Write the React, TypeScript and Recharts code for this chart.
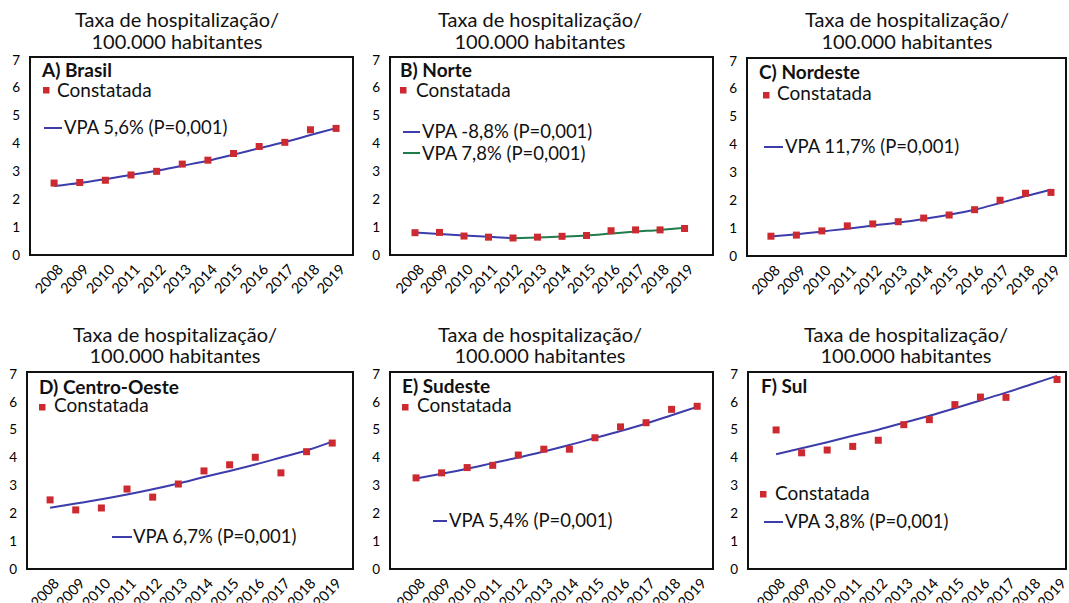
import React from 'react';
import { ComposedChart, Line, Scatter, XAxis, YAxis, ReferenceArea } from 'recharts';

const years = [2008, 2009, 2010, 2011, 2012, 2013, 2014, 2015, 2016, 2017, 2018, 2019];
const yTicks = [0, 1, 2, 3, 4, 5, 6, 7];

const brasilObs = [2.58, 2.6, 2.68, 2.87, 3.0, 3.26, 3.4, 3.64, 3.89, 4.04, 4.49, 4.54];
const brasilVpa = [2.47, 2.58, 2.72, 2.87, 3.02, 3.2, 3.38, 3.6, 3.83, 4.05, 4.3, 4.55];

const norteObs = [0.8, 0.81, 0.68, 0.64, 0.61, 0.64, 0.67, 0.7, 0.87, 0.9, 0.9, 0.95];
const norteVpa1 = [0.81, 0.75, 0.7, 0.65, 0.6, null, null, null, null, null, null, null];
const norteVpa2 = [null, null, null, null, 0.6, 0.63, 0.66, 0.7, 0.77, 0.84, 0.9, 0.98];

const nordesteObs = [0.71, 0.75, 0.9, 1.08, 1.15, 1.23, 1.36, 1.47, 1.66, 2.0, 2.25, 2.28];
const nordesteVpa = [0.7, 0.78, 0.88, 0.98, 1.09, 1.2, 1.33, 1.48, 1.66, 1.9, 2.15, 2.38];

const centroObs = [2.48, 2.12, 2.19, 2.87, 2.58, 3.05, 3.52, 3.74, 4.01, 3.45, 4.21, 4.52];
const centroVpa = [2.2, 2.35, 2.5, 2.67, 2.86, 3.07, 3.3, 3.52, 3.75, 4.0, 4.25, 4.57];

const sudesteObs = [3.27, 3.45, 3.64, 3.72, 4.09, 4.3, 4.3, 4.71, 5.1, 5.25, 5.73, 5.84];
const sudesteVpa = [3.25, 3.42, 3.6, 3.8, 4.0, 4.22, 4.45, 4.7, 4.95, 5.22, 5.52, 5.82];

const sulObs = [4.99, 4.17, 4.27, 4.4, 4.62, 5.18, 5.36, 5.9, 6.17, 6.16, null, 6.8];
const sulVpa = [4.12, 4.33, 4.55, 4.78, 5.0, 5.25, 5.5, 5.77, 6.05, 6.33, 6.63, 6.93];

const BLUE = '#3c3cab';
const GREEN = '#1f7d4c';
const RED = '#cc2a30';
const FONT = 'Lato, "Liberation Sans", sans-serif';

const titleLines = ['Taxa de hospitalização/', '100.000 habitantes'];
const obsLabel = 'Constatada';

const panels = [
  {
    heading: 'A) Brasil', obs: brasilObs,
    trends: [{ values: brasilVpa, label: 'VPA 5,6% (P=0,001)', color: BLUE }],
    left: 0, top: 0, w: 360, h: 300, yw: 30, mr: 7, mt: 57, xh: 45, ymax: 7.1, xd: [2007.06, 2019.66],
    titleX: 177, titleY: [27, 49],
    head: [42, 77], sq: [46, 90], sqText: [57, 97], vpa: [[44, 62, 128, 64, 134]],
  },
  {
    heading: 'B) Norte', obs: norteObs,
    trends: [
      { values: norteVpa1, label: 'VPA -8,8% (P=0,001)', color: BLUE },
      { values: norteVpa2, label: 'VPA 7,8% (P=0,001)', color: GREEN },
    ],
    left: 360, top: 0, w: 360, h: 300, yw: 30, mr: 7, mt: 57, xh: 45, ymax: 7.1, xd: [2006.98, 2020.16],
    titleX: 540, titleY: [27, 49],
    head: [400, 77], sq: [403, 90], sqText: [416, 97],
    vpa: [[403, 420, 132, 422, 138], [403, 420, 153, 422, 160]],
  },
  {
    heading: 'C) Nordeste', obs: nordesteObs,
    trends: [{ values: nordesteVpa, label: 'VPA 11,7% (P=0,001)', color: BLUE }],
    left: 717, top: 0, w: 352, h: 300, yw: 30, mr: 3, mt: 58, xh: 44, ymax: 7.1, xd: [2007.06, 2019.59],
    titleX: 907, titleY: [27, 49],
    head: [759, 79], sq: [766, 95], sqText: [777, 100], vpa: [[764, 783, 147, 785, 153]],
  },
  {
    heading: 'D) Centro-Oeste', obs: centroObs,
    trends: [{ values: centroVpa, label: 'VPA 6,7% (P=0,001)', color: BLUE }],
    left: 0, top: 310, w: 360, h: 293, yw: 27, mr: 7, mt: 62, xh: 34, ymax: 7.07, xd: [2007.1, 2019.81],
    titleX: 175, titleY: [342, 363],
    head: [39, 394], sq: [42, 407], sqText: [54, 412], vpa: [[112, 132, 537, 133, 543]],
  },
  {
    heading: 'E) Sudeste', obs: sudesteObs,
    trends: [{ values: sudesteVpa, label: 'VPA 5,4% (P=0,001)', color: BLUE }],
    left: 360, top: 310, w: 360, h: 293, yw: 30, mr: 7, mt: 62, xh: 34, ymax: 7.07, xd: [2006.98, 2019.62],
    titleX: 540, titleY: [342, 363],
    head: [402, 393], sq: [405, 407], sqText: [417, 412], vpa: [[433, 447, 521, 449, 527]],
  },
  {
    heading: 'F) Sul', obs: sulObs,
    trends: [{ values: sulVpa, label: 'VPA 3,8% (P=0,001)', color: BLUE }],
    left: 718, top: 310, w: 351, h: 293, yw: 30, mr: 3, mt: 62, xh: 34, ymax: 7.07, xd: [2006.9, 2019.35],
    titleX: 906, titleY: [342, 363],
    head: [761, 393], sq: [763, 494], sqText: [775, 500], vpa: [[764, 783, 522, 785, 528]],
  },
];

function YearTick(props: any) {
  const { x, y, payload } = props;
  return (
    <text
      transform={`translate(${x + 10},${y + 7}) rotate(-47)`}
      textAnchor="end"
      fontSize={14.5}
      fontFamily={FONT}
      fill="#000"
    >
      {payload.value}
    </text>
  );
}

function Square(props: any) {
  const { cx, cy } = props;
  return <rect x={cx - 3.5} y={cy - 3.5} width={7} height={7} fill={RED} />;
}

function Panel({ p }: any) {
  const rows = years.map((year, i) => {
    const row: any = { year, obs: p.obs[i] };
    p.trends.forEach((t: any, k: number) => {
      row['t' + k] = t.values[i];
    });
    return row;
  });
  const obsRows = rows.filter((r) => r.obs != null);

  return (
    <div style={{ position: 'absolute', left: p.left, top: p.top }}>
      <ComposedChart
        width={p.w}
        height={p.h}
        data={rows}
        margin={{ top: p.mt, right: p.mr, bottom: 0, left: 0 }}
      >
        <XAxis
          dataKey="year"
          type="number"
          domain={p.xd}
          ticks={years}
          allowDataOverflow
          axisLine={false}
          tickLine={false}
          height={p.xh}
          tick={<YearTick />}
          interval={0}
        />
        <YAxis
          type="number"
          domain={[0, p.ymax]}
          ticks={yTicks}
          allowDataOverflow
          axisLine={false}
          tickLine={false}
          tickSize={0}
          tickMargin={10}
          width={p.yw}
          tick={{ fontSize: 13.5, fill: '#000', fontFamily: FONT }}
        />
        <ReferenceArea
          x1={p.xd[0]}
          x2={p.xd[1]}
          y1={0}
          y2={p.ymax}
          fill="#fff"
          fillOpacity={1}
          stroke="#111"
          strokeWidth={2}
          ifOverflow="visible"
        />
        {p.trends.map((t: any, k: number) => (
          <Line
            key={k}
            dataKey={'t' + k}
            type="monotone"
            stroke={t.color}
            strokeWidth={2}
            dot={false}
            isAnimationActive={false}
          />
        ))}
        <Scatter data={obsRows} dataKey="obs" shape={<Square />} isAnimationActive={false} />
      </ComposedChart>
    </div>
  );
}

function Overlay() {
  return (
    <svg
      width={1069}
      height={603}
      style={{ position: 'absolute', left: 0, top: 0, pointerEvents: 'none' }}
      fontFamily={FONT}
    >
      {panels.map((p, i) => (
        <g key={i}>
          {titleLines.map((line, j) => (
            <text key={j} x={p.titleX} y={p.titleY[j]} textAnchor="middle" fontSize={20} fill="#111">
              {line}
            </text>
          ))}
          <text x={p.head[0]} y={p.head[1]} fontSize={19} fontWeight="bold" fill="#111">
            {p.heading}
          </text>
          <rect x={p.sq[0] - 3} y={p.sq[1] - 3} width={6.5} height={6.5} fill={RED} />
          <text x={p.sqText[0]} y={p.sqText[1]} fontSize={19} fill="#111">
            {obsLabel}
          </text>
          {p.trends.map((t: any, k: number) => {
            const v = p.vpa[k];
            return (
              <g key={k}>
                <line x1={v[0]} x2={v[1]} y1={v[2]} y2={v[2]} stroke={t.color} strokeWidth={2} />
                <text x={v[3]} y={v[4]} fontSize={18.5} fill="#111">
                  {t.label}
                </text>
              </g>
            );
          })}
        </g>
      ))}
    </svg>
  );
}

export default function App() {
  return (
    <div
      style={{
        position: 'absolute',
        left: 0,
        top: 0,
        width: 1069,
        height: 603,
        background: '#fff',
        overflow: 'hidden',
      }}
    >
      {panels.map((p, i) => (
        <Panel key={i} p={p} />
      ))}
      <Overlay />
    </div>
  );
}
